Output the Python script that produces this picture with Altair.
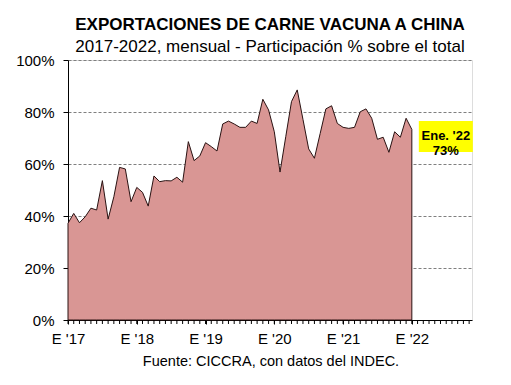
import json
import altair as alt
import pandas as pd

title_text = "EXPORTACIONES DE CARNE VACUNA A CHINA"
subtitle_text = "2017-2022, mensual - Participación % sobre el total"
source_text = "Fuente: CICCRA, con datos del INDEC."
x_labels = ["E '17", "E '18", "E '19", "E '20", "E '21", "E '22"]
last_tag = "Ene. '22"

# Monthly share (%) of beef exports going to China, Jan 2017 .. Jan 2022
share = [
    37.2, 41.0, 37.4, 39.7, 43.0, 42.3, 53.6, 38.8, 47.4, 58.7, 58.1, 45.5,
    51.0, 49.1, 43.8, 55.4, 53.2, 53.6, 53.5, 54.9, 53.0, 68.6, 61.3, 63.1,
    68.2, 66.7, 65.0, 75.4, 76.5, 75.4, 74.1, 74.1, 76.5, 75.6, 84.9, 80.8,
    72.4, 56.9, 70.5, 84.0, 88.5, 77.2, 65.8, 62.2, 71.7, 81.2, 82.4, 75.6,
    74.1, 73.7, 74.1, 80.1, 81.2, 77.6, 69.5, 70.3, 64.5, 72.4, 70.3, 77.6,
    73.3,
]

FONT = "Liberation Sans"
W, H = 404, 260
N_TICKS = 71  # monthly ticks Jan 2017 .. Nov 2022
X_MAX = 70.5

df = pd.DataFrame({"m": list(range(len(share))), "v": [s / 100 for s in share]})
last = df.tail(1).copy()
last["lab"] = f"{last_tag}\n{round(share[-1])}%"
ticks_df = pd.DataFrame({"m": list(range(N_TICKS))})

label_values = [12 * i for i in range(len(x_labels))]
label_expr = f"{json.dumps(x_labels)}[round(datum.value / 12)]"

x = alt.X(
    "m:Q",
    scale=alt.Scale(domain=[0, X_MAX], nice=False, zero=False),
    axis=alt.Axis(
        values=label_values,
        labelExpr=label_expr,
        title=None,
        grid=False,
        tickSize=4,
        tickColor="black",
        domainColor="black",
        labelFont=FONT,
        labelFontSize=15,
        labelColor="black",
        labelPadding=7,
        labelOverlap=False,
        labelFlush=False,
    ),
)
y = alt.Y(
    "v:Q",
    scale=alt.Scale(domain=[0, 1], nice=False),
    axis=alt.Axis(
        values=[0, 0.2, 0.4, 0.6, 0.8, 1.0],
        format=".0%",
        title=None,
        grid=True,
        gridDash=[3, 2],
        gridColor="#7f7f7f",
        gridWidth=1,
        tickSize=5,
        tickColor="black",
        domainColor="black",
        labelFont=FONT,
        labelFontSize=15,
        labelColor="black",
        labelPadding=9,
    ),
)

area = alt.Chart(df).mark_area(
    color="#D99694", stroke="#2a1212", strokeWidth=1, opacity=1
).encode(x=x, y=y)

minor = alt.Chart(ticks_df).mark_tick(
    orient="vertical", size=4, thickness=1, color="black", opacity=1
).encode(x=alt.X("m:Q"), y=alt.value(H + 2))

box = alt.Chart(last).mark_point(
    shape="M-1,-0.574L1,-0.574L1,0.574L-1,0.574Z",
    size=2916,
    filled=True,
    color="#FFFF00",
    opacity=1,
    strokeWidth=0,
    xOffset=34,
    yOffset=7,
).encode(x="m:Q", y="v:Q")

tag = alt.Chart(last).mark_text(
    lineBreak="\n",
    font=FONT,
    fontSize=13,
    fontWeight="bold",
    color="black",
    align="center",
    baseline="middle",
    lineHeight=15,
    dx=34,
    dy=7,
).encode(x="m:Q", y="v:Q", text="lab:N")

src = alt.Chart(pd.DataFrame({"t": [source_text]})).mark_text(
    font=FONT, fontSize=14.5, color="black", align="center", baseline="middle"
).encode(text="t:N", x=alt.value(W / 2 + 1), y=alt.value(H + 42))

chart = (
    alt.layer(area, minor, box, tag, src)
    .properties(
        width=W,
        height=H,
        autosize=alt.AutoSizeParams(type="none"),
        padding={"left": 60, "top": 52, "right": 31, "bottom": 57},
        title=alt.TitleParams(
            text=title_text,
            subtitle=subtitle_text,
            anchor="middle",
            frame="group",
            font=FONT,
            fontSize=17,
            fontWeight="bold",
            color="black",
            subtitleFont=FONT,
            subtitleFontSize=17,
            subtitleColor="black",
            subtitlePadding=5,
            offset=-3,
        ),
    )
    .configure_view(stroke=None)
    .configure(background="white")
)

chart.save("out.html", embed_options={"renderer": "svg", "actions": False})
